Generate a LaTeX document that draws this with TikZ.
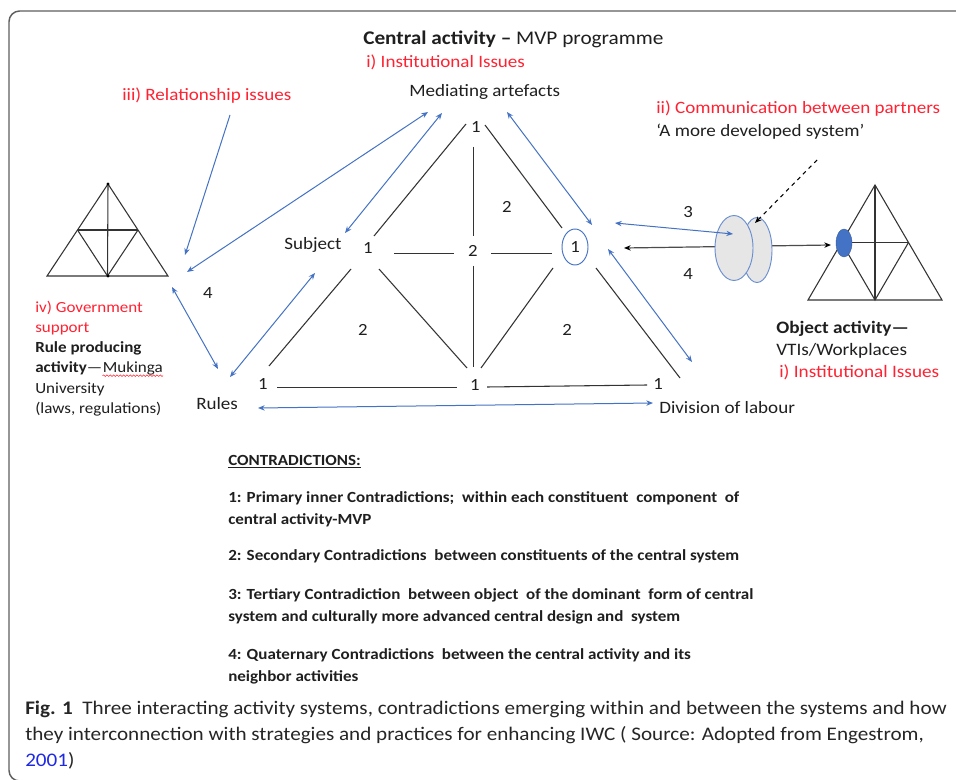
\documentclass[tikz,border=0pt]{standalone}
\usepackage{fontspec}
\setmainfont{Carlito}[FakeStretch=1.1]
\usetikzlibrary{arrows.meta,calc,decorations.pathmorphing,shapes.geometric}

\definecolor{issuered}{RGB}{255,34,50}
\definecolor{linkblue}{RGB}{68,114,196}
\definecolor{diskgray}{RGB}{230,230,230}
\definecolor{framegray}{RGB}{95,95,95}
\definecolor{citeblue}{RGB}{30,40,230}

\tikzset{
  txt/.style={inner sep=0pt, text=black!88, font=\fontsize{12.6}{15}\selectfont},
  issue/.style={txt, text=issuered},
  num/.style={inner sep=1pt, text=black!88, font=\fontsize{12.8}{15}\selectfont},
  seg/.style={draw=black!80, line width=0.8pt},
  link/.style={draw=linkblue, line width=0.75pt,
    {Stealth[length=5pt,width=4pt]}-{Stealth[length=5pt,width=4pt]}},
  onelink/.style={draw=linkblue, line width=0.75pt, -{Stealth[length=5pt,width=4pt]}},
  contra/.style={txt, anchor=base west, align=left,
    font=\fontsize{11.6}{16.5}\selectfont\bfseries},
}

% outline of a neighbour activity system (apex, base left, base right)
\def\subsystem(#1)(#2)(#3){%
  \draw[seg] (#1) -- (#2) -- (#3) -- cycle;
  \draw[seg] ($(#1)!0.5!(#2)$) -- ($(#1)!0.5!(#3)$);
  \draw[seg] (#1) -- ($(#2)!0.5!(#3)$);
  \draw[seg] ($(#1)!0.5!(#2)$) -- ($(#2)!0.5!(#3)$) -- ($(#1)!0.5!(#3)$);}

\begin{document}
\begin{tikzpicture}[x=0.75pt,y=-0.75pt]
		%%%%% FRAME %%%%%
		\useasboundingbox (0,0) rectangle (956,780);
		\clip (0,0) rectangle (956,780);
		\fill[white] (0,0) rectangle (956,780);
		\draw[framegray, line width=1.1pt, rounded corners=8pt] (9,11) rectangle (990,781);
		
		%%%%% HEADINGS %%%%%
		\node[txt, anchor=base west, font=\fontsize{14.5}{17}\selectfont] (title) at (363,45)
		  {\textbf{Central activity –} MVP programme};
		\node[issue, anchor=base west, font=\fontsize{13}{15}\selectfont] (inst) at (366,68) {i) Institutional Issues};
		\node[txt, anchor=base west, font=\fontsize{13}{15}\selectfont] (med) at (409,97) {Mediating artefacts};
		\node[issue, anchor=base west, font=\fontsize{13}{15}\selectfont] (rel) at (122,101) {iii) Relationship issues};
		\node[issue, anchor=base west, font=\fontsize{13}{15}\selectfont] (comm) at (656,114) {ii) Communication between partners};
		\node[txt, anchor=base west, font=\fontsize{13}{15}\selectfont] (mds) at (656,137) {‘A more developed system’};
		
		%%%%% CENTRAL TRIANGLE %%%%%
		\node[txt, anchor=base west, font=\fontsize{13}{15}\selectfont] (subj) at (284,250) {Subject};
		\node[txt, anchor=base west, font=\fontsize{13}{15}\selectfont] (rules) at (196,409) {Rules};
		\node[txt, anchor=base west, font=\fontsize{13}{15}\selectfont] (div) at (659,413) {Division of labour};
		
		\node[num] (t1) at (476,127) {1};
		\node[num] (s1) at (368,248) {1};
		\node[num] (c2) at (473,251) {2};
		\node[num, draw=linkblue, ellipse, minimum width=26pt*0.75, minimum height=36pt*0.75,
		  inner sep=0pt, line width=0.7pt] (o1) at (575,247) {1};
		\node[num] (r1) at (263,384) {1};
		\node[num] (m1) at (475,385) {1};
		\node[num] (d1) at (658,384) {1};
		\node[num] (up2) at (507,207) {2};
		\node[num] (ll2) at (363,330) {2};
		\node[num] (lr2) at (567,330) {2};
		
		\draw[seg] (466,124) -- (374,236);
		\draw[seg] (485,125) -- (562,228);
		\draw[seg] (473.5,147) -- (473.5,236);
		\draw[seg] (394,253.5) -- (454,253.5);
		\draw[seg] (491,253.5) -- (552,253.5);
		\draw[seg] (473.5,266) -- (473.5,367);
		\draw[seg] (351,269) -- (269,366);
		\draw[seg] (379,269) -- (467,368);
		\draw[seg] (553,268) -- (481,368);
		\draw[seg] (596,268) -- (680,378);
		\draw[seg] (277,387.5) -- (457,387.5);
		\draw[seg] (487,387) -- (647,385);
		
		%%%%% LEFT SYSTEM %%%%%
		\subsystem(108,184)(47,276)(168,276)
		\fill (108,184) circle (1.2pt);
		\fill (108,276) circle (1.2pt);
		
		\begin{scope}[every node/.append style={txt, anchor=base west, font=\fontsize{11.6}{14}\selectfont}]
		\node[text=issuered] (gov) at (35,313) {iv) Government};
		\node[text=issuered] (supp) at (35,333) {support};
		\node (rpa) at (35,353) {\textbf{Rule producing}};
		\node (act) at (35,373) {\textbf{activity}—};
		\node (muk) at (act.base east) {Mukinga};
		\node (univ) at (35,393) {University};
		\node (laws) at (35,413) {(laws, regulations)};
		\end{scope}
		\draw[issuered, line width=0.4pt, decorate,
		  decoration={snake, amplitude=0.6pt, segment length=2.5pt}]
		  ([yshift=-2pt]muk.base west) -- ([yshift=-2pt]muk.base east);
		
		\node[num] (q4l) at (208,293) {4};
		
		%%%%% RIGHT SYSTEM %%%%%
		\subsystem(875,185)(808,300)(942,300)
		\node[txt, anchor=base west, font=\fontsize{13.1}{15}\selectfont] (objact) at (776,334) {\textbf{Object activity—}};
		\node[txt, anchor=base west, font=\fontsize{13.1}{15}\selectfont] (vti) at (776,355) {VTIs/Workplaces};
		\node[issue, anchor=base west, font=\fontsize{13.1}{15}\selectfont] (inst2) at (779,378) {i) Institutional Issues};
		\node[num] (q3) at (688,212) {3};
		\node[num] (q4r) at (688,274) {4};
		
		%%%%% CONNECTORS %%%%%
		\coordinate (lta) at (187,272);
		\coordinate (ltb) at (185,255);
		\coordinate (ltc) at (172,287);
		\coordinate (meda) at (428,112);
		\coordinate (medb) at (442,113);
		\coordinate (medc) at (507,112);
		\coordinate (relend) at (230,115);
		\coordinate (subja) at (345,233);
		\coordinate (subjb) at (315,273);
		\coordinate (rulesa) at (218,369);
		\coordinate (rulesb) at (230,377);
		\coordinate (rulesc) at (258,408);
		\coordinate (diva) at (653,403);
		\coordinate (divb) at (692,362);
		\coordinate (o1a) at (592,225);
		\coordinate (o1b) at (608,249);
		\coordinate (o1c) at (615,223);
		\coordinate (o1d) at (624,248);
		\coordinate (diska) at (733,234);
		\coordinate (diskb) at (755,223);
		\coordinate (mdsend) at (817,160);
		\coordinate (objin) at (831,245);
		
		\draw[link] (lta) -- (meda);
		\draw[link] (subja) -- (medb);
		\draw[onelink] (relend) -- (ltb);
		\draw[link] (ltc) -- (rulesa);
		\draw[link] (rulesb) -- (subjb);
		\draw[link] (rulesc) -- (diva);
		\draw[link] (medc) -- (o1a);
		\draw[link] (o1b) -- (divb);
		
		\draw[black!70, line width=0.9pt, {Stealth[length=5pt,width=4pt,black]}-{Stealth[length=5pt,width=4pt,black]}]
		  (o1d) -- (objin);
		\draw[fill=diskgray, draw=linkblue!80, line width=0.7pt] (757,250) ellipse (15*0.75pt and 32.5*0.75pt);
		\draw[fill=diskgray, draw=linkblue!80, line width=0.7pt] (734,248) ellipse (19*0.75pt and 32.5*0.75pt);
		\fill[linkblue, draw=linkblue!80!black, line width=0.3pt] (844,243) ellipse (8*0.75pt and 14*0.75pt);
		\draw[link] (o1c) -- (diska);
		\draw[black, line width=0.8pt, dashed, -{Stealth[length=5pt,width=4pt]}] (mdsend) -- (diskb);
		
		%%%%% CONTRADICTIONS %%%%%
		\node[contra] (chead) at (228,465) {\underline{CONTRADICTIONS:}};
		\node[contra] (ci) at (228,524) {1: Primary inner Contradictions;\ \ within each constituent\ \ component\ \ of\\central activity-MVP};
		\node[contra] (cii) at (228,560) {2: Secondary Contradictions\ \ between constituents of the central system};
		\node[contra] (ciii) at (228,621) {3: Tertiary Contradiction\ \ between object\ \ of the dominant\ \ form of central\\system and culturally more advanced central design and\ \ system};
		\node[contra] (civ) at (228,681) {4: Quaternary Contradictions\ \ between the central activity and its\\neighbor activities};
		
		%%%%% CAPTION %%%%%
		\node[txt, anchor=base west, align=left, text=black!85, font=\fontsize{14.4}{19.5}\selectfont] (cap) at (25,766)
		  {\textbf{Fig. 1}\ \ Three interacting activity systems, contradictions emerging within and between the systems and how\\
		   they interconnection with strategies and practices for enhancing IWC ( Source: Adopted from Engestrom,\\
		   \textcolor{citeblue}{2001})};
		
		%%%%% END %%%%%
	\end{tikzpicture}
\end{document}
